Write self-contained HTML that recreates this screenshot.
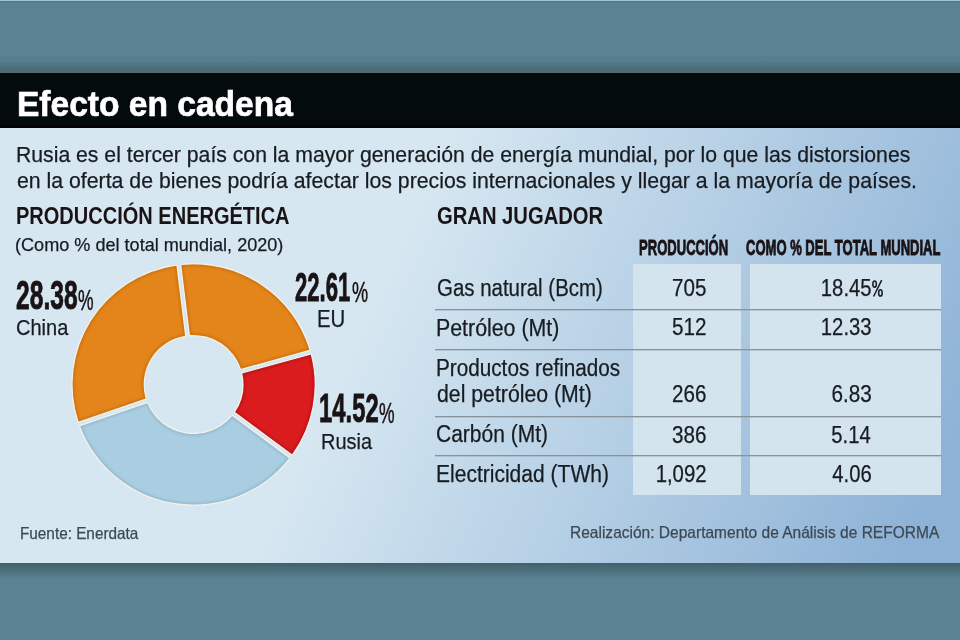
<!DOCTYPE html>
<html><head><meta charset="utf-8"><style>
html,body{margin:0;padding:0}
body{width:960px;height:640px;overflow:hidden;position:relative;background:#5a8292;font-family:"Liberation Sans",sans-serif}
.abs{position:absolute}
.t{position:absolute;white-space:nowrap;-webkit-text-stroke:0.25px currentColor}
#topline{left:0;top:0;width:960px;height:1px;background:#a2c3d3}
#topdark{left:0;top:1px;width:960px;height:2px;background:linear-gradient(#50737f,#5a8292)}
#tshadow{left:0;top:54px;width:960px;height:19px;background:linear-gradient(#5a8292,#587d8b 35%,#4a6a73 85%,#58696f)}
#band{left:0;top:73px;width:960px;height:55px;background:linear-gradient(#040b0c 92%,#000 100%)}
#panel{left:0;top:128px;width:960px;height:435px;background:linear-gradient(115deg,#d6e7f1 39%,#8db2d6 95.3%)}
#bshadow{left:0;top:563px;width:960px;height:16px;background:linear-gradient(#42606b,#5a8292)}
.box{position:absolute;background:#d3e4ee;top:264px;height:231px}
.cd{-webkit-text-stroke:0.9px currentColor}
</style></head><body>
<div id="topline" class="abs"></div>
<div id="topdark" class="abs"></div>
<div id="tshadow" class="abs"></div>
<div id="band" class="abs"></div>
<div id="panel" class="abs"></div>
<div id="bshadow" class="abs"></div>
<div class="box" style="left:633px;width:107.5px"></div>
<div class="box" style="left:750px;width:191px"></div>
<div class="abs" style="left:435px;top:309px;width:506px;height:2px;background:linear-gradient(#86939c 50%,rgba(150,165,175,.45) 50%)"></div><div class="abs" style="left:435px;top:349px;width:506px;height:2px;background:linear-gradient(#86939c 50%,rgba(150,165,175,.45) 50%)"></div><div class="abs" style="left:435px;top:416px;width:506px;height:2px;background:linear-gradient(#86939c 50%,rgba(150,165,175,.45) 50%)"></div><div class="abs" style="left:435px;top:455px;width:506px;height:2px;background:linear-gradient(#86939c 50%,rgba(150,165,175,.45) 50%)"></div>
<svg class="abs" width="960" height="640" viewBox="0 0 960 640" style="left:0;top:0">
<defs><clipPath id="c0"><path d="M181.16,265.12 A120,120 0 0 1 308.18,349.82 L240.34,368.77 A49.6,49.6 0 0 0 189.74,335.03 Z"/></clipPath><clipPath id="c1"><path d="M309.52,354.64 A120,120 0 0 1 291.03,454.14 L234.53,412.08 A49.6,49.6 0 0 0 241.68,373.58 Z"/></clipPath><clipPath id="c2"><path d="M288.04,458.15 A120,120 0 0 1 80.80,426.25 L147.33,403.13 A49.6,49.6 0 0 0 231.54,416.09 Z"/></clipPath><clipPath id="c3"><path d="M79.16,421.53 A120,120 0 0 1 176.20,265.72 L184.78,335.64 A49.6,49.6 0 0 0 145.69,398.40 Z"/></clipPath><filter id="bl" x="-5%" y="-5%" width="110%" height="110%"><feGaussianBlur stdDeviation="0.9"/></filter>
<filter id="sh" x="-20%" y="-20%" width="140%" height="140%"><feGaussianBlur in="SourceAlpha" stdDeviation="1.2"/><feOffset dx="0" dy="0.8"/><feComponentTransfer><feFuncA type="linear" slope="0.25"/></feComponentTransfer><feMerge><feMergeNode/><feMergeNode in="SourceGraphic"/></feMerge></filter></defs>
<g transform="translate(193.60 384.5) scale(1.008 1) translate(-193.30 -384.5)"><g><path d="M181.16,265.12 A120,120 0 0 1 308.18,349.82 L240.34,368.77 A49.6,49.6 0 0 0 189.74,335.03 Z" fill="none" stroke="#f4f1ea" stroke-width="2.6" stroke-linejoin="round"/><path d="M309.52,354.64 A120,120 0 0 1 291.03,454.14 L234.53,412.08 A49.6,49.6 0 0 0 241.68,373.58 Z" fill="none" stroke="#f4f1ea" stroke-width="2.6" stroke-linejoin="round"/><path d="M288.04,458.15 A120,120 0 0 1 80.80,426.25 L147.33,403.13 A49.6,49.6 0 0 0 231.54,416.09 Z" fill="none" stroke="#f4f1ea" stroke-width="2.6" stroke-linejoin="round"/><path d="M79.16,421.53 A120,120 0 0 1 176.20,265.72 L184.78,335.64 A49.6,49.6 0 0 0 145.69,398.40 Z" fill="none" stroke="#f4f1ea" stroke-width="2.6" stroke-linejoin="round"/></g>
<g><path d="M181.16,265.12 A120,120 0 0 1 308.18,349.82 L240.34,368.77 A49.6,49.6 0 0 0 189.74,335.03 Z" fill="#e3851a"/><path d="M309.52,354.64 A120,120 0 0 1 291.03,454.14 L234.53,412.08 A49.6,49.6 0 0 0 241.68,373.58 Z" fill="#db1c1f"/><path d="M288.04,458.15 A120,120 0 0 1 80.80,426.25 L147.33,403.13 A49.6,49.6 0 0 0 231.54,416.09 Z" fill="#a9cde1"/><path d="M79.16,421.53 A120,120 0 0 1 176.20,265.72 L184.78,335.64 A49.6,49.6 0 0 0 145.69,398.40 Z" fill="#e3851a"/></g>
<g clip-path="url(#c0)"><path d="M181.16,265.12 A120,120 0 0 1 308.18,349.82 L240.34,368.77 A49.6,49.6 0 0 0 189.74,335.03 Z" fill="none" stroke="#b9640c" stroke-width="3.4" opacity="0.5" filter="url(#bl)"/></g><g clip-path="url(#c1)"><path d="M309.52,354.64 A120,120 0 0 1 291.03,454.14 L234.53,412.08 A49.6,49.6 0 0 0 241.68,373.58 Z" fill="none" stroke="#9c0f12" stroke-width="3.4" opacity="0.5" filter="url(#bl)"/></g><g clip-path="url(#c2)"><path d="M288.04,458.15 A120,120 0 0 1 80.80,426.25 L147.33,403.13 A49.6,49.6 0 0 0 231.54,416.09 Z" fill="none" stroke="#86aabd" stroke-width="3.4" opacity="0.5" filter="url(#bl)"/></g><g clip-path="url(#c3)"><path d="M79.16,421.53 A120,120 0 0 1 176.20,265.72 L184.78,335.64 A49.6,49.6 0 0 0 145.69,398.40 Z" fill="none" stroke="#b9640c" stroke-width="3.4" opacity="0.5" filter="url(#bl)"/></g></g>
</svg>
<div id="title" class="t" style="left:16.64px;transform-origin:0 0;top:85.67px;font-size:35px;line-height:35px;font-weight:700;color:#ffffff;transform:scaleX(0.9582);-webkit-text-stroke:0.7px currentColor;">Efecto en cadena</div>
<div id="p1" class="t" style="left:16.31px;transform-origin:0 0;top:143.87px;font-size:22px;line-height:22px;font-weight:400;color:#181c21;transform:scaleX(0.9635);">Rusia es el tercer país con la mayor generación de energía mundial, por lo que las distorsiones</div>
<div id="p2" class="t" style="left:16.56px;transform-origin:0 0;top:170.07px;font-size:22px;line-height:22px;font-weight:400;color:#181c21;transform:scaleX(0.9670);">en la oferta de bienes podría afectar los precios internacionales y llegar a la mayoría de países.</div>
<div id="h1" class="t" style="left:15.80px;transform-origin:0 0;top:204.90px;font-size:23.5px;line-height:23.5px;font-weight:700;color:#1a1315;transform:scaleX(0.8517);-webkit-text-stroke:0px currentColor;">PRODUCCIÓN ENERGÉTICA</div>
<div id="sub" class="t" style="left:15.19px;transform-origin:0 0;top:235.21px;font-size:19px;line-height:19px;font-weight:400;color:#181c21;transform:scaleX(0.9518);">(Como % del total mundial, 2020)</div>
<div id="n1" class="t cd" style="left:15.68px;transform-origin:0 0;top:274.99px;font-size:41px;line-height:41px;font-weight:700;color:#1a1315;transform:scaleX(0.6005);">28.38</div>
<div id="n1p" class="t" style="left:77.98px;transform-origin:0 0;top:285.95px;font-size:29px;line-height:29px;font-weight:400;color:#1a1315;transform:scaleX(0.6040);-webkit-text-stroke:0.5px currentColor;">%</div>
<div id="l1" class="t" style="left:16.47px;transform-origin:0 0;top:317.25px;font-size:22.5px;line-height:22.5px;font-weight:400;color:#181c21;transform:scaleX(0.8898);">China</div>
<div id="n2" class="t cd" style="left:295.12px;transform-origin:0 0;top:266.79px;font-size:41px;line-height:41px;font-weight:700;color:#1a1315;transform:scaleX(0.5392);">22.61</div>
<div id="n2p" class="t" style="left:351.72px;transform-origin:0 0;top:277.75px;font-size:29px;line-height:29px;font-weight:400;color:#1a1315;transform:scaleX(0.6240);-webkit-text-stroke:0.5px currentColor;">%</div>
<div id="l2" class="t" style="left:317.24px;transform-origin:0 0;top:308.03px;font-size:23px;line-height:23px;font-weight:400;color:#181c21;transform:scaleX(0.8845);">EU</div>
<div id="n3" class="t cd" style="left:319.32px;transform-origin:0 0;top:387.79px;font-size:41px;line-height:41px;font-weight:700;color:#1a1315;transform:scaleX(0.5815);">14.52</div>
<div id="n3p" class="t" style="left:378.81px;transform-origin:0 0;top:398.55px;font-size:29px;line-height:29px;font-weight:400;color:#1a1315;transform:scaleX(0.6040);-webkit-text-stroke:0.5px currentColor;">%</div>
<div id="l3" class="t" style="left:321.05px;transform-origin:0 0;top:430.70px;font-size:22.5px;line-height:22.5px;font-weight:400;color:#181c21;transform:scaleX(0.8877);">Rusia</div>
<div id="h2" class="t" style="left:436.59px;transform-origin:0 0;top:205.30px;font-size:23.5px;line-height:23.5px;font-weight:700;color:#1a1315;transform:scaleX(0.8599);-webkit-text-stroke:0px currentColor;">GRAN JUGADOR</div>
<div id="th1" class="t cd" style="left:639.41px;transform-origin:0 0;top:237.25px;font-size:22.5px;line-height:22.5px;font-weight:700;color:#1a1315;transform:scaleX(0.5801);">PRODUCCIÓN</div>
<div id="th2" class="t cd" style="left:745.92px;transform-origin:0 0;top:237.25px;font-size:22.5px;line-height:22.5px;font-weight:700;color:#1a1315;transform:scaleX(0.5790);">COMO % DEL TOTAL MUNDIAL</div>
<div id="r3a" class="t" style="left:435.50px;transform-origin:0 0;top:356.63px;font-size:23px;line-height:23px;font-weight:400;color:#181c21;transform:scaleX(0.9005);">Productos refinados</div>
<div id="r1" class="t" style="left:436.53px;transform-origin:0 0;top:276.93px;font-size:23px;line-height:23px;font-weight:400;color:#181c21;transform:scaleX(0.8886);">Gas natural (Bcm)</div>
<div id="r1c1" class="t" style="right:253.32px;transform-origin:100% 0;top:277.43px;font-size:23px;line-height:23px;font-weight:400;color:#181c21;transform:scaleX(0.8959);">705</div>
<div id="r1c2" class="t" style="right:88.32px;transform-origin:100% 0;top:277.43px;font-size:23px;line-height:23px;font-weight:400;color:#181c21;transform:scaleX(0.8813);">18.45</div>
<div id="r2" class="t" style="left:435.81px;transform-origin:0 0;top:316.93px;font-size:23px;line-height:23px;font-weight:400;color:#181c21;transform:scaleX(0.9277);">Petróleo (Mt)</div>
<div id="r2c1" class="t" style="right:253.38px;transform-origin:100% 0;top:316.43px;font-size:23px;line-height:23px;font-weight:400;color:#181c21;transform:scaleX(0.8986);">512</div>
<div id="r2c2" class="t" style="right:88.32px;transform-origin:100% 0;top:316.43px;font-size:23px;line-height:23px;font-weight:400;color:#181c21;transform:scaleX(0.8813);">12.33</div>
<div id="r3b" class="t" style="left:436.68px;transform-origin:0 0;top:382.83px;font-size:23px;line-height:23px;font-weight:400;color:#181c21;transform:scaleX(0.9241);">del petróleo (Mt)</div>
<div id="r3bc1" class="t" style="right:253.32px;transform-origin:100% 0;top:383.33px;font-size:23px;line-height:23px;font-weight:400;color:#181c21;transform:scaleX(0.8959);">266</div>
<div id="r3bc2" class="t" style="right:88.31px;transform-origin:100% 0;top:383.33px;font-size:23px;line-height:23px;font-weight:400;color:#181c21;transform:scaleX(0.9012);">6.83</div>
<div id="r4" class="t" style="left:436.07px;transform-origin:0 0;top:423.33px;font-size:23px;line-height:23px;font-weight:400;color:#181c21;transform:scaleX(0.9124);">Carbón (Mt)</div>
<div id="r4c1" class="t" style="right:253.32px;transform-origin:100% 0;top:423.83px;font-size:23px;line-height:23px;font-weight:400;color:#181c21;transform:scaleX(0.8959);">386</div>
<div id="r4c2" class="t" style="right:88.75px;transform-origin:100% 0;top:423.83px;font-size:23px;line-height:23px;font-weight:400;color:#181c21;transform:scaleX(0.8807);">5.14</div>
<div id="r5" class="t" style="left:435.94px;transform-origin:0 0;top:462.93px;font-size:23px;line-height:23px;font-weight:400;color:#181c21;transform:scaleX(0.9144);">Electricidad (TWh)</div>
<div id="r5c1" class="t" style="right:253.53px;transform-origin:100% 0;top:463.43px;font-size:23px;line-height:23px;font-weight:400;color:#181c21;transform:scaleX(0.8848);">1,092</div>
<div id="r5c2" class="t" style="right:88.50px;transform-origin:100% 0;top:463.43px;font-size:23px;line-height:23px;font-weight:400;color:#181c21;transform:scaleX(0.8807);">4.06</div>
<div id="f1" class="t" style="left:19.88px;transform-origin:0 0;top:524.63px;font-size:16.5px;line-height:16.5px;font-weight:400;color:#3d4954;transform:scaleX(0.9276);">Fuente: Enerdata</div>
<div id="f2" class="t" style="left:570.35px;transform-origin:0 0;top:524.43px;font-size:16.5px;line-height:16.5px;font-weight:400;color:#3d4954;transform:scaleX(0.9407);">Realización: Departamento de Análisis de REFORMA</div><svg class="abs" style="left:866px;top:276px" width="24" height="24" viewBox="866 276 24 24"><g fill="none" stroke="#181c21" stroke-width="1.55"><ellipse cx="874.6" cy="284.1" rx="1.75" ry="3.1"/><ellipse cx="880.4" cy="292.9" rx="1.75" ry="3.1"/><line x1="873.6" y1="296.5" x2="881.7" y2="280.2"/></g></svg>
</body></html>
